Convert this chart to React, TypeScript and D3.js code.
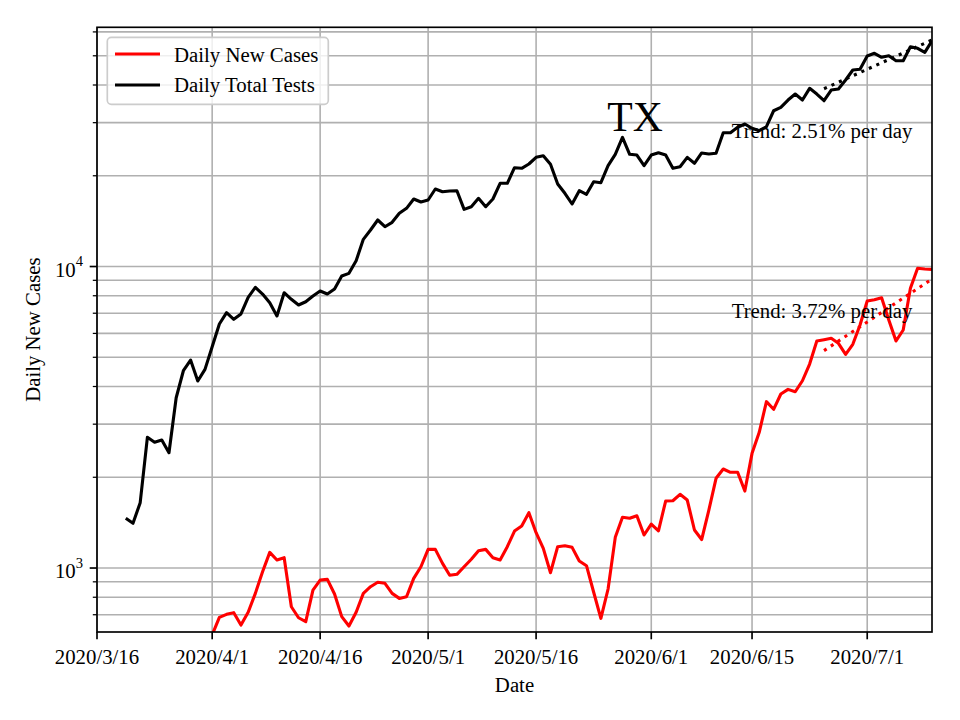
import React from "react";
import * as d3 from "d3";

// daily values
const caseStart = "2020-04-01";
const cases = [
  600, 686, 702, 711, 647, 713, 824, 972, 1127, 1063, 1082, 744, 684, 664, 845, 912, 917, 820, 690, 642,
  713, 824, 867, 897, 890, 824, 793, 803, 924, 1010,
  1153, 1153, 1036, 946, 953, 1010, 1069, 1141, 1153, 1082, 1063, 1177, 1326, 1378, 1526, 1310, 1162, 965,
  1177, 1186, 1171, 1055, 1018, 831, 681, 852, 1264, 1473, 1462, 1491, 1287,
  1399, 1329, 1668, 1672, 1756, 1681, 1337, 1243, 1557, 1984, 2130, 2077, 2077, 1800, 2401, 2819, 3562,
  3361, 3777, 3914, 3843, 4180, 4749, 5663, 5719, 5780, 5563, 5114, 5521, 6397,
  7684, 7760, 7879, 6645, 5663, 6158, 8468, 9863, 9810, 9786,
];

const testStart = "2020-03-20";
const tests = [
  1462, 1407, 1647, 2713, 2612, 2659, 2412, 3671, 4512, 4897, 4171, 4560,
  5420, 6448, 7029, 6682, 6960, 7904, 8531, 8106, 7585, 6855, 8187, 7785, 7452, 7642, 7983, 8295, 8106,
  8424, 9300, 9493, 10452, 12308, 13216, 14266, 13554, 14017, 15014, 15596, 16747, 16366,
  16620, 18077, 17706, 17800, 17841, 15477, 15788, 16836, 15788, 16747, 18880, 18880, 21270, 21170, 21878,
  23022, 23306, 21827, 18777, 17491, 16121, 17841, 17358, 19111, 18967, 21598, 23559, 26823, 23559, 23434,
  21598,
  23434, 23848, 23434, 21170, 21429, 23022, 21997, 23800, 23612, 23740, 27786, 27786, 28958, 29693, 28737,
  28212, 29090, 32862, 33729, 35659, 37331, 35659, 38995, 37331, 35470, 38490, 38785, 41557, 44847, 45086,
  49919, 50954, 49427, 50034, 48157, 48157, 53580, 52930, 51330, 56080,
];

// trend fits (endpoints)
const trendDates = ["2020-06-25", "2020-07-10"];
const caseTrend = [5261, 9089];
const testTrend = [38876, 56390];
const caseTrendLabel = "Trend: 3.72% per day";
const testTrendLabel = "Trend: 2.51% per day";

const xTicks = ["2020-03-16", "2020-04-01", "2020-04-16", "2020-05-01", "2020-05-16", "2020-06-01", "2020-06-15", "2020-07-01"];
const xDomain = ["2020-03-16", "2020-07-10"];
const yDomain = [613.5, 62150];

const W = 960;
const H = 720;
const left = 97;
const right = 932;
const top = 27.3;
const bottom = 632;

const font = "'Liberation Serif', 'Times New Roman', serif";
const fs = 20.8;
const grid = "#b0b0b0";

const parse = (s: string) => new Date(s + "T00:00:00Z");

export default function App() {
  const x = d3.scaleUtc().domain(xDomain.map(parse)).range([left, right]);
  const y = d3.scaleLog().domain(yDomain).range([bottom, top]);

  const caseData = cases.map((v, i) => ({ d: d3.utcDay.offset(parse(caseStart), i), v }));
  const testData = tests.map((v, i) => ({ d: d3.utcDay.offset(parse(testStart), i), v }));

  const line = d3
    .line<{ d: Date; v: number }>()
    .x((p) => x(p.d))
    .y((p) => y(p.v));

  const trend = (vals: number[]) => line(trendDates.map((s, i) => ({ d: parse(s), v: vals[i] }))) || "";

  const yTicks = y.ticks();
  const isMajor = (v: number) => Math.abs(Math.log10(v) - Math.round(Math.log10(v))) < 1e-9;
  const fmtDate = (d: Date) => `${d.getUTCFullYear()}/${d.getUTCMonth() + 1}/${d.getUTCDate()}`;

  return (
    <svg width={W} height={H} style={{ position: "absolute", left: 0, top: 0, background: "#fff" }} fontFamily={font}>
      <defs>
        <clipPath id="plot">
          <rect x={left} y={top} width={right - left} height={bottom - top} />
        </clipPath>
      </defs>

      {/* grid */}
      <g stroke={grid} strokeWidth={1.6}>
        {yTicks.map((t) => (
          <line key={"gy" + t} x1={left} x2={right} y1={y(t)} y2={y(t)} />
        ))}
        {xTicks.map((t) => (
          <line key={"gx" + t} x1={x(parse(t))} x2={x(parse(t))} y1={top} y2={bottom} />
        ))}
      </g>

      {/* series */}
      <g clipPath="url(#plot)" fill="none" strokeWidth={3.1} strokeLinejoin="round">
        <path d={line(caseData) || ""} stroke="#ff0000" />
        <path d={line(testData) || ""} stroke="#000" />
        <path d={trend(caseTrend)} stroke="#ff0000" strokeDasharray="3.1 5.1" />
        <path d={trend(testTrend)} stroke="#000" strokeDasharray="3.1 5.1" />
      </g>

      {/* annotations */}
      <text x={635} y={131} fontSize={41.7} textAnchor="middle">TX</text>
      <text x={822} y={138.3} fontSize={fs} textAnchor="middle">{testTrendLabel}</text>
      <text x={822} y={318} fontSize={fs} textAnchor="middle">{caseTrendLabel}</text>

      {/* spines */}
      <rect x={left} y={top} width={right - left} height={bottom - top} fill="none" stroke="#000" strokeWidth={1.67} />

      {/* x axis */}
      {xTicks.map((t) => {
        const px = x(parse(t));
        return (
          <g key={"xt" + t}>
            <line x1={px} x2={px} y1={bottom} y2={bottom + 7.3} stroke="#000" strokeWidth={1.67} />
            <text x={px} y={663.8} fontSize={fs} textAnchor="middle">{fmtDate(parse(t))}</text>
          </g>
        );
      })}
      <text x={(left + right) / 2} y={692} fontSize={fs} textAnchor="middle">Date</text>

      {/* y axis */}
      {yTicks.map((t) => {
        const py = y(t);
        const major = isMajor(t);
        return (
          <g key={"yt" + t}>
            <line x1={left - (major ? 7.3 : 4.2)} x2={left} y1={py} y2={py} stroke="#000" strokeWidth={major ? 1.67 : 1.25} />
            {major && (
              <text x={83} y={py + 10.2} fontSize={fs} textAnchor="end">
                <tspan>10</tspan>
                <tspan dy={-10.5} fontSize={14.6}>{Math.round(Math.log10(t))}</tspan>
              </text>
            )}
          </g>
        );
      })}
      <text transform={`translate(39.6, ${(top + bottom) / 2}) rotate(-90)`} fontSize={fs} textAnchor="middle">
        Daily New Cases
      </text>

      {/* legend */}
      <g>
        <rect x={107.3} y={37.3} width={221} height={67} rx={4} fill="#fff" fillOpacity={0.8} stroke="#cccccc" strokeWidth={1.67} />
        <line x1={115} x2={160} y1={54} y2={54} stroke="#ff0000" strokeWidth={3.1} />
        <text x={174} y={61.5} fontSize={fs}>Daily New Cases</text>
        <line x1={115} x2={160} y1={85} y2={85} stroke="#000" strokeWidth={3.1} />
        <text x={174} y={92} fontSize={fs}>Daily Total Tests</text>
      </g>
    </svg>
  );
}
